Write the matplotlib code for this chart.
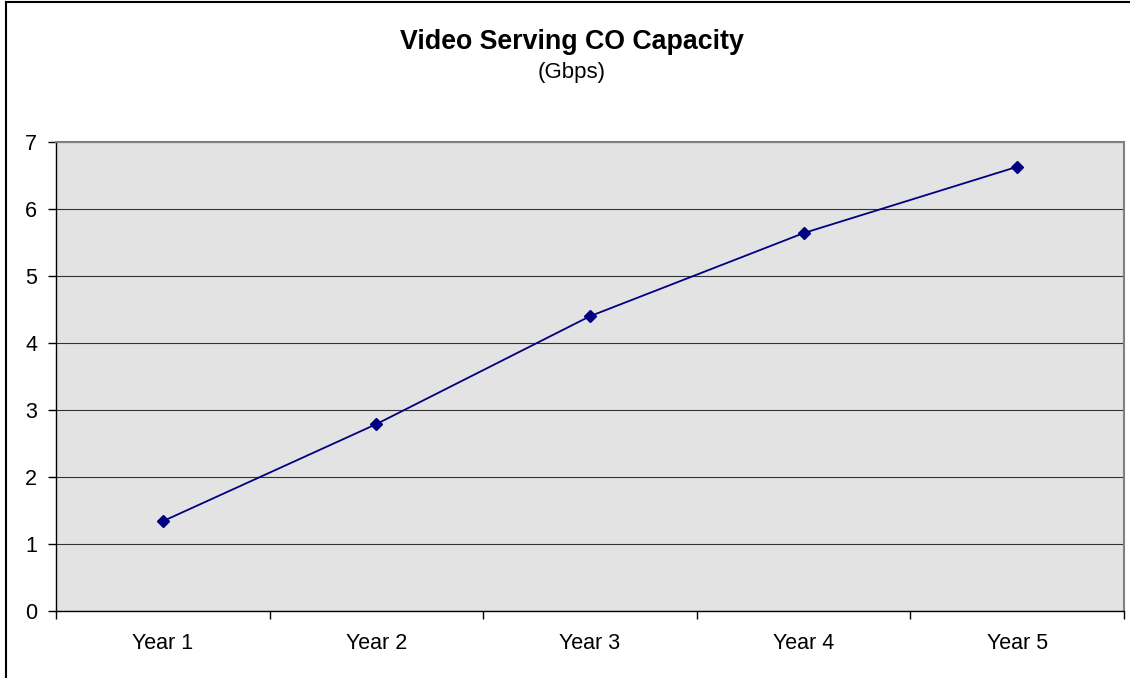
import numpy as np
import matplotlib
matplotlib.use("Agg")
import matplotlib.pyplot as plt
from matplotlib.lines import Line2D

plt.rcParams['font.family'] = ['Liberation Sans', 'DejaVu Sans']

# data
years = ['Year 1', 'Year 2', 'Year 3', 'Year 4', 'Year 5']
capacity = [1.34, 2.79, 4.40, 5.64, 6.63]

fig = plt.figure(figsize=(11.34, 6.78), dpi=100)
ax = fig.add_axes([0.0494, 0.0988, 0.9418, 0.6918])
ax.set_facecolor('#E3E3E3')

x = np.arange(len(years))
ax.plot(x, capacity, color='#000080', linewidth=1.3, marker='D',
        markersize=6.5, markerfacecolor='#000080', markeredgecolor='#000080',
        zorder=3)

ax.set_xlim(-0.5, len(years) - 0.5)
ax.set_ylim(0, 7)
ax.set_yticks(range(0, 8))
ax.yaxis.grid(True, color='#333333', linewidth=0.8)
ax.set_axisbelow(True)

# category boundaries as major ticks, labels at the centres
ax.set_xticks(np.arange(-0.5, len(years)))
ax.set_xticklabels([])
ax.set_xticks(x, minor=True)
ax.set_xticklabels(years, minor=True)
ax.tick_params(axis='x', which='major', length=6, width=1, color='black')
ax.tick_params(axis='x', which='minor', length=0, pad=16, labelsize=15.5)
ax.tick_params(axis='y', length=6, width=1, pad=7.5, labelsize=15.5)

for side in ['top', 'right']:
    ax.spines[side].set_color('#808080')
    ax.spines[side].set_linewidth(1.5)
for side in ['left', 'bottom']:
    ax.spines[side].set_color('black')
    ax.spines[side].set_linewidth(1)

fig.text(0.5045, 0.9277, 'Video Serving CO Capacity', ha='center',
         va='baseline', fontsize=19.3, fontweight='bold')
fig.text(0.5045, 0.885, '(Gbps)', ha='center', va='baseline', fontsize=16)

# chart frame (left and top edges visible)
fig.add_artist(Line2D([6 / 1134, 6 / 1134], [0, 1 - 2 / 678],
                      transform=fig.transFigure, color='black', linewidth=1.5))
fig.add_artist(Line2D([6 / 1134, 1129 / 1134], [1 - 2 / 678, 1 - 2 / 678],
                      transform=fig.transFigure, color='black', linewidth=1.5))

fig.savefig('out.png', dpi=100)
